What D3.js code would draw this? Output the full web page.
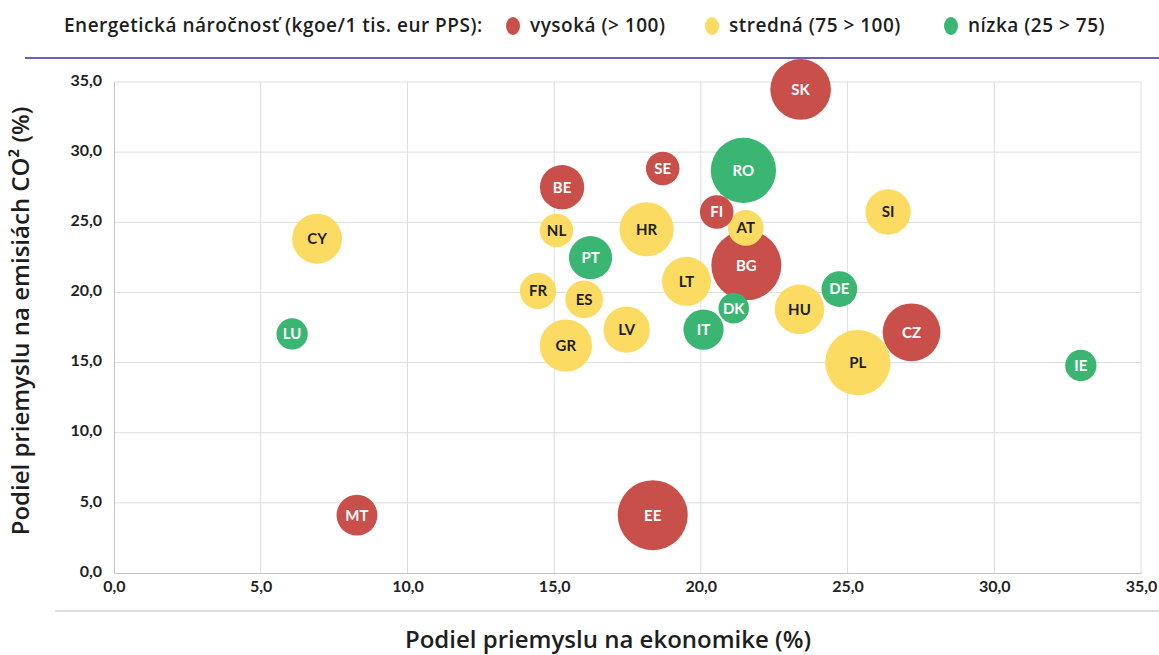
<!DOCTYPE html>
<html>
<head>
<meta charset="utf-8">
<script src="https://cdn.jsdelivr.net/npm/d3@7"></script>
<style>
    body { margin: 0; background: #fff; font-family: Lato, "Open Sans", sans-serif; }
    .tick text { font-family: Lato, sans-serif; font-weight: 700; font-size: 16px; fill: #222; }
    .title { font-family: "Open Sans", sans-serif; }
</style>
</head>
<body>
<div id="chart"></div>
<script>
const countries = ["SK", "RO", "SE", "BE", "FI", "AT", "SI", "NL", "HR", "PT", "BG", "LT", "FR", "ES",
    "DE", "DK", "HU", "IT", "LV", "GR", "PL", "CZ", "IE", "LU", "MT", "EE", "CY"];
// podiel priemyslu na ekonomike (%)
const economyShare = [23.4, 21.45, 18.7, 15.27, 20.54, 21.53, 26.38, 15.08, 18.15, 16.24, 21.55, 19.51, 14.45, 16.02,
    24.72, 21.12, 23.36, 20.09, 17.47, 15.4, 25.35, 27.18, 32.95, 6.07, 8.28, 18.36, 6.92];
// podiel priemyslu na emisiach CO2 (%)
const emissionShare = [34.47, 28.7, 28.84, 27.5, 25.73, 24.6, 25.73, 24.42, 24.5, 22.48, 21.93, 20.79, 20.1, 19.5,
    20.24, 18.87, 18.8, 17.35, 17.35, 16.21, 15.0, 17.16, 14.79, 17.04, 4.12, 4.12, 23.83];
// velkost bubliny
const bubbleSize = [75, 87, 23, 40, 23, 26, 42, 23, 60, 38, 100, 49, 27, 29,
    26, 19, 50, 33, 44, 56, 87, 68, 20, 20, 34, 100, 51];
// energeticka narocnost: 0 vysoka, 1 stredna, 2 nizka
const intensity = [0, 2, 0, 0, 0, 1, 1, 1, 1, 2, 0, 1, 1, 1,
    2, 2, 1, 2, 1, 1, 1, 0, 2, 2, 0, 0, 1];

const legendLabels = ["vysoká (> 100)", "stredná (75 > 100)", "nízka (25 > 75)"];
const legendColors = ["#c9504a", "#fcdb63", "#3ab672"];
const labelColors = ["#fff", "#1e1e1e", "#fff"];
const ticks = [0, 5, 10, 15, 20, 25, 30, 35];

const data = countries.map((c, i) => ({
    code: c, x: economyShare[i], y: emissionShare[i], size: bubbleSize[i], cat: intensity[i]
})).sort((a, b) => b.size - a.size);

const width = 1159;
const height = 655;
const margin = { left: 114, right: 18, top: 82, bottom: 82 };

const svg = d3.select('#chart')
    .append('svg')
        .attr('width', width)
        .attr('height', height);

const x = d3.scaleLinear().domain([0, 35]).range([margin.left, width - margin.right]);
const y = d3.scaleLinear().domain([0, 35]).range([height - margin.bottom, margin.top]);
const r = d3.scaleSqrt().domain([0, 100]).range([0, 35]);
const fmt = d => d3.format('.1f')(d).replace('.', ',');

// legend
const legend = svg.append('g').attr('transform', 'translate(64,25)');
legend.append('text')
    .attr('class', 'title')
    .attr('y', 7)
    .attr('font-size', 19)
    .attr('font-weight', 600)
    .attr('letter-spacing', 0.5)
    .attr('fill', '#1e1e1e')
    .text('Energetická náročnosť (kgoe/1 tis. eur PPS):');
const legendX = [449, 648, 887];
legendLabels.forEach((l, i) => {
    legend.append('ellipse')
        .attr('cx', legendX[i])
        .attr('cy', 1)
        .attr('rx', 7)
        .attr('ry', 9)
        .attr('fill', legendColors[i]);
    legend.append('text')
        .attr('class', 'title')
        .attr('x', legendX[i] + 17)
        .attr('y', 7)
        .attr('font-size', 19)
        .attr('font-weight', 600)
        .attr('letter-spacing', 0.5)
        .attr('fill', '#1e1e1e')
        .text(l);
});

// separators
svg.append('line')
    .attr('x1', 25).attr('x2', width)
    .attr('y1', 58).attr('y2', 58)
    .attr('stroke', '#6b62b8')
    .attr('stroke-width', 2);
svg.append('line')
    .attr('x1', 55).attr('x2', width)
    .attr('y1', 611).attr('y2', 611)
    .attr('stroke', '#d4d2e2')
    .attr('stroke-width', 1.5);

// grid
svg.append('g')
    .selectAll('line')
    .data(ticks.slice(1))
    .join('line')
        .attr('x1', d => x(d)).attr('x2', d => x(d))
        .attr('y1', y(0)).attr('y2', y(35))
        .attr('stroke', '#dddddd');
svg.append('g')
    .selectAll('line')
    .data(ticks.slice(1))
    .join('line')
        .attr('x1', x(0)).attr('x2', x(35))
        .attr('y1', d => y(d)).attr('y2', d => y(d))
        .attr('stroke', '#dddddd');

// axes
const xAxis = svg.append('g')
    .attr('transform', `translate(0,${y(0)})`)
    .call(d3.axisBottom(x).tickValues(ticks).tickFormat(fmt).tickSize(0).tickPadding(8));
xAxis.select('.domain').attr('stroke', '#c4c4c4');

const yAxis = svg.append('g')
    .attr('transform', `translate(${x(0)},0)`)
    .call(d3.axisLeft(y).tickValues(ticks).tickFormat(fmt).tickSize(0).tickPadding(12));
yAxis.select('.domain').attr('stroke', '#c4c4c4');
yAxis.selectAll('.tick text').attr('dy', '0.2em');

// axis titles
svg.append('text')
    .attr('class', 'title')
    .attr('x', 608)
    .attr('y', 648)
    .attr('text-anchor', 'middle')
    .attr('font-size', 24)
    .attr('font-weight', 600)
    .attr('fill', '#1e1e1e')
    .text('Podiel priemyslu na ekonomike (%)');
svg.append('text')
    .attr('class', 'title')
    .attr('transform', 'translate(29,321) rotate(-90)')
    .attr('text-anchor', 'middle')
    .attr('font-size', 24)
    .attr('font-weight', 600)
    .attr('fill', '#1e1e1e')
    .text('Podiel priemyslu na emisiách CO² (%)');

// bubbles
const bubbles = svg.append('g')
    .selectAll('g')
    .data(data)
    .join('g')
        .attr('transform', d => `translate(${x(d.x)},${y(d.y)})`);
bubbles.append('circle')
    .attr('r', d => r(d.size))
    .attr('fill', d => legendColors[d.cat]);
bubbles.append('text')
    .attr('text-anchor', 'middle')
    .attr('dy', '0.36em')
    .attr('font-size', 15)
    .attr('font-weight', 700)
    .attr('fill', d => labelColors[d.cat])
    .text(d => d.code);
</script>
</body>
</html>
